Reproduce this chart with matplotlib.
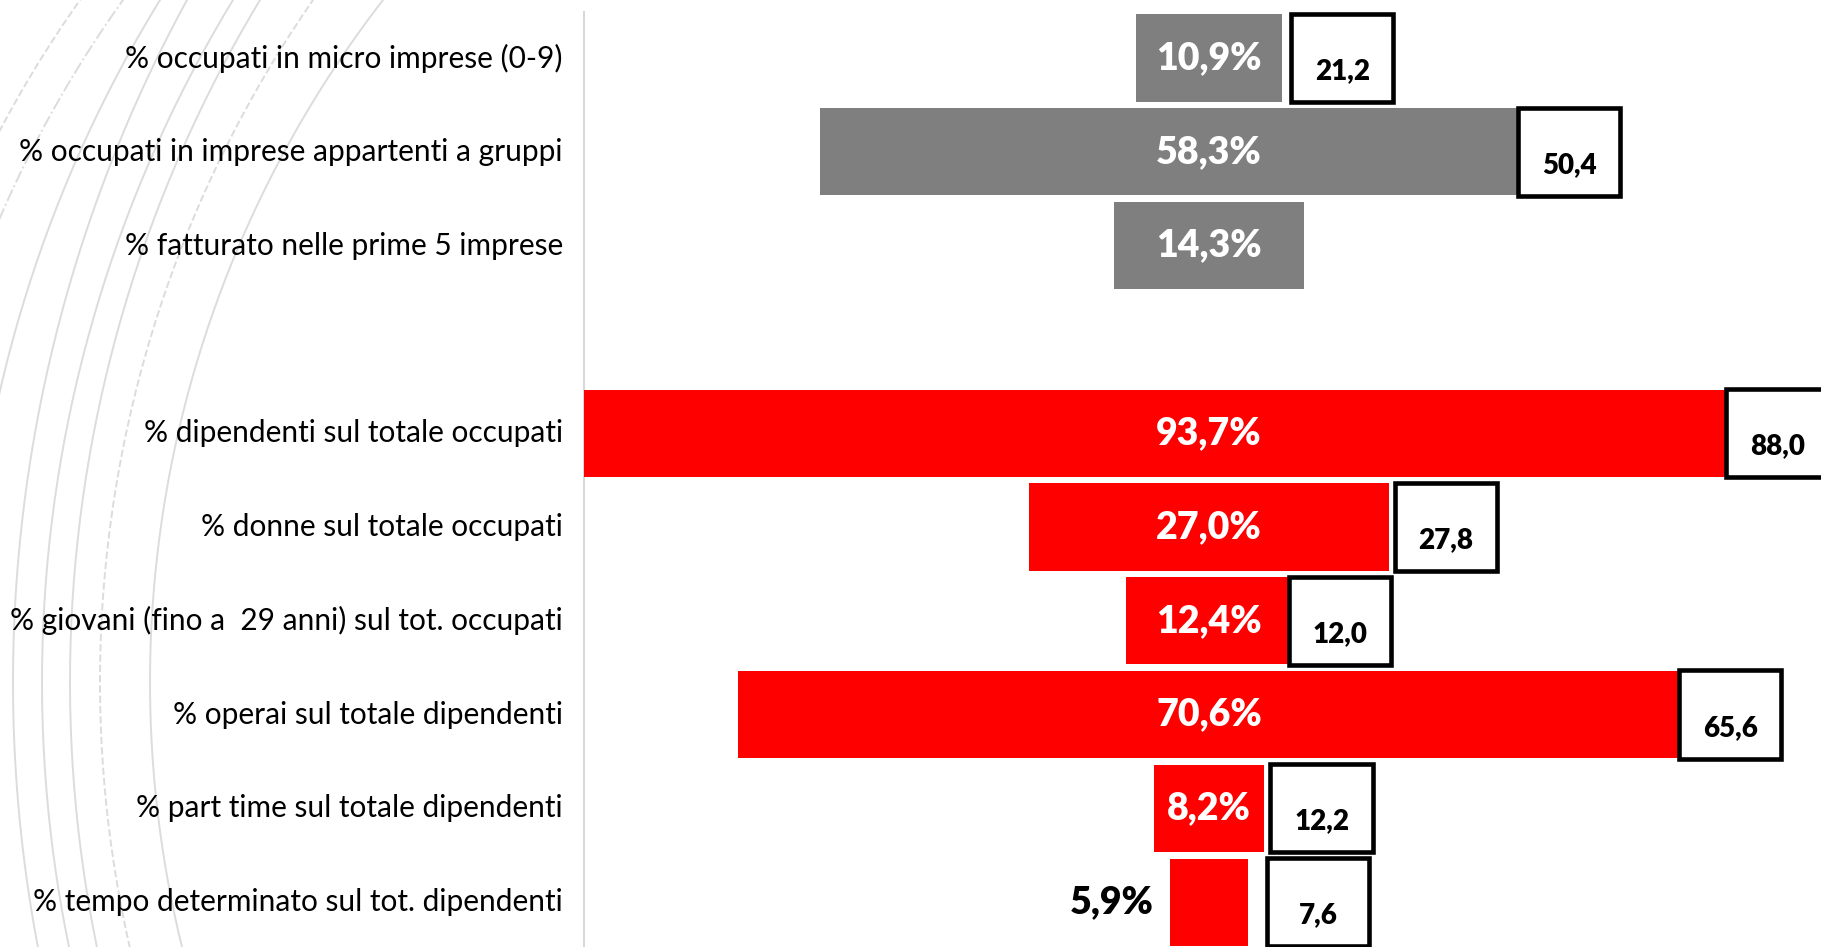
import matplotlib
matplotlib.use('Agg')
import matplotlib.pyplot as plt
from matplotlib.patches import Rectangle
import numpy as np

# indicators (top group in grey, bottom group in red)
categories = ['% occupati in micro imprese (0-9)',
              '% occupati in imprese appartenti a gruppi',
              '% fatturato nelle prime 5 imprese',
              '% dipendenti sul totale occupati',
              '% donne sul totale occupati',
              '% giovani (fino a  29 anni) sul tot. occupati',
              '% operai sul totale dipendenti',
              '% part time sul totale dipendenti',
              '% tempo determinato sul tot. dipendenti']
values = [10.9, 58.3, 14.3, 93.7, 27.0, 12.4, 70.6, 8.2, 5.9]
# comparison figures shown in the framed boxes (None = no box)
benchmark = [21.2, 50.4, None, 88.0, 27.8, 12.0, 65.6, 12.2, 7.6]

rows = [0, 1, 2, 4, 5, 6, 7, 8, 9]
colors = ['#7f7f7f'] * 3 + ['#ff0000'] * 6
box_shift = [0.7, -6.0, 0, -8.1, 0.4, -0.2, -0.1, 0.5, 1.4]

plt.rcParams['font.family'] = ['Lato', 'DejaVu Sans']

fig = plt.figure(figsize=(18.21, 9.47), dpi=100)

# decorative arcs of the slide background
bg = fig.add_axes([0, 0, 1, 1], zorder=0)
bg.set_xlim(0, 1821)
bg.set_ylim(947, 0)
bg.axis('off')
arc_left = [-137, -96, -33, 13, 42, 70, 100, 150]
arc_top = [80, 123, 160, 187, 233, 260, 313, 383]
arc_ls = ['--', '-.', '-', '-', '-', '-', '--', '-']
cy = 682
t = np.linspace(np.pi / 2, 3 * np.pi / 2, 600)
for xl, xt, ls in zip(arc_left, arc_top, arc_ls):
    dx = xt - xl
    r = (dx ** 2 + cy ** 2) / (2 * dx)
    cx = xl + r
    bg.plot(cx + r * np.cos(t), cy + r * np.sin(t), color='#dcdcdc', lw=1.4, ls=ls)

ax = fig.add_axes([0, 0, 1, 1], zorder=1)
ax.patch.set_alpha(0)
ax.set_xlim(-90.56, 45.84)
ax.set_ylim(9.478, -0.618)
ax.axis('off')

vals = np.array(values)
ax.barh(rows, vals, left=-vals / 2, height=0.93, color=colors, zorder=2)
ax.plot([-93.7 / 2, -93.7 / 2], [-0.49, 9.6], color='#d9d9d9', lw=1.5, zorder=1)

for y, lab in zip(rows, categories):
    ax.text(-48.4, y, lab, ha='right', va='center', fontsize=21.5, color='black')

for y, v in zip(rows, values):
    txt = f'{v:.1f}'.replace('.', ',') + '%'
    if v > 7:
        ax.text(0, y, txt, ha='center', va='center', fontsize=27,
                fontweight='heavy', color='white', zorder=4)
    else:
        ax.text(-v / 2 - 1.2, y, txt, ha='right', va='center', fontsize=27,
                fontweight='heavy', color='black', zorder=4)

bw = 7.66
bh = 0.94
for y, v, b, s in zip(rows, values, benchmark, box_shift):
    if b is None:
        continue
    x0 = v / 2 + s
    ax.add_patch(Rectangle((x0, y - bh / 2), bw, bh, facecolor='white',
                           edgecolor='black', lw=3.3, zorder=3))
    ax.text(x0 + bw / 2, y + 0.14, f'{b:.1f}'.replace('.', ','), ha='center',
            va='center', fontsize=20, fontweight='heavy', color='black', zorder=4)

fig.savefig('out.png', dpi=100)
